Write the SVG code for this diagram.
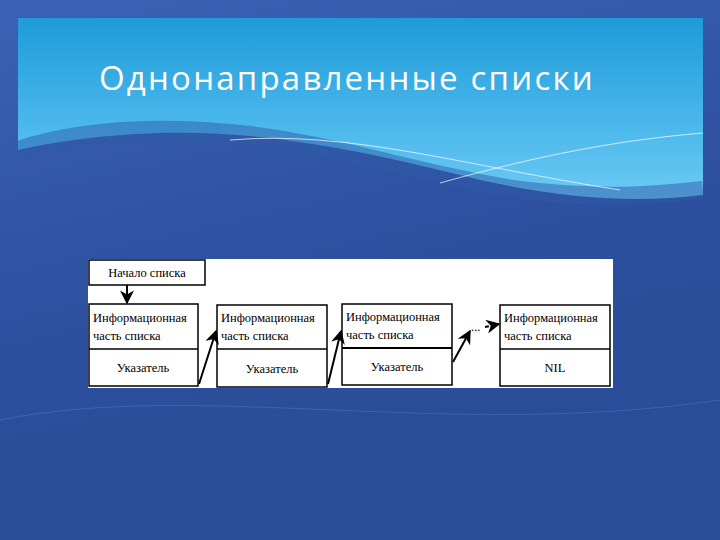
<svg xmlns="http://www.w3.org/2000/svg" width="720" height="540" viewBox="0 0 720 540">
<defs>
<linearGradient id="bg" x1="0" y1="0" x2="0.3" y2="1"><stop offset="0" stop-color="#3a62b4"/><stop offset="0.6" stop-color="#2c4f9e"/><stop offset="1" stop-color="#2a4d98"/></linearGradient>
<linearGradient id="top" x1="0" y1="0" x2="0" y2="1"><stop offset="0" stop-color="#1f9bd8"/><stop offset="0.6" stop-color="#4bb8ec"/><stop offset="1" stop-color="#6ccaf4"/></linearGradient>
<marker id="ah" viewBox="0 0 10 10" refX="9" refY="5" markerWidth="7" markerHeight="7" orient="auto"><path d="M0,0 L10,5 L0,10 L3,5 z" fill="#000"/></marker>
<style>
.box{fill:#fff;stroke:#000;stroke-width:1.5}
.t{font-family:'Liberation Serif',serif;font-size:12.5px;fill:#000}
.c{stroke:#000;stroke-width:2;fill:none;marker-end:url(#ah)}
</style>
</defs>
<rect width="720" height="540" fill="url(#bg)"/>
<path d="M18,18 H703 V195 C620,205 540,195 460,175 C360,150 260,130 160,133 C90,135 40,145 18,150 Z" fill="url(#top)"/>
<path d="M18,150 C80,130 160,125 250,135 C350,148 420,175 520,190 C600,200 660,195 703,190" fill="none" stroke="#2e5aa8" stroke-width="18" opacity="0.5"/>
<path d="M230,140 C350,130 460,165 620,190" fill="none" stroke="#fff" stroke-width="1" opacity="0.7"/>
<path d="M440,183 C540,155 620,140 703,133" fill="none" stroke="#fff" stroke-width="1" opacity="0.7"/>
<path d="M0,420 C200,380 450,440 720,400" fill="none" stroke="#4a70bd" stroke-width="1" opacity="0.6"/>
<text x="99" y="90" font-family="'Open Sans',sans-serif" font-size="33" fill="#fff" letter-spacing="2.2">Однонаправленные списки</text>
<rect x="88" y="259" width="525" height="129" fill="#fff"/>
<g id="start"><rect class="box" x="89" y="260" width="116" height="25"/><text class="t" x="147" y="277" text-anchor="middle">Начало списка</text></g>
<g id="n1"><rect class="box" x="89" y="304" width="109" height="82"/><line x1="89" y1="349" x2="198" y2="349" stroke="#000" stroke-width="1.5"/><text class="t" x="93" y="322">Информационная</text><text class="t" x="93" y="340">часть списка</text><text class="t" x="143" y="372" text-anchor="middle">Указатель</text></g>
<g id="n2"><rect class="box" x="217" y="305" width="110" height="82"/><line x1="217" y1="349" x2="327" y2="349" stroke="#000" stroke-width="1.5"/><text class="t" x="221" y="322">Информационная</text><text class="t" x="221" y="340">часть списка</text><text class="t" x="272" y="373" text-anchor="middle">Указатель</text></g>
<g id="n3"><rect class="box" x="342" y="304" width="110" height="81"/><line x1="342" y1="348" x2="452" y2="348" stroke="#000" stroke-width="2"/><text class="t" x="346" y="321">Информационная</text><text class="t" x="346" y="339">часть списка</text><text class="t" x="397" y="371" text-anchor="middle">Указатель</text></g>
<g id="n4"><rect class="box" x="500" y="305" width="110" height="81"/><line x1="500" y1="349" x2="610" y2="349" stroke="#000" stroke-width="1.5"/><text class="t" x="504" y="322">Информационная</text><text class="t" x="504" y="340">часть списка</text><text class="t" x="555" y="372" text-anchor="middle">NIL</text></g>
<g id="connectors">
<line class="c" x1="127" y1="285" x2="127" y2="303"/>
<line class="c" x1="199" y1="384" x2="216" y2="331"/>
<line class="c" x1="328" y1="384" x2="341" y2="331"/>
<line class="c" x1="453" y1="362" x2="470" y2="331"/>
<text class="t" x="471" y="331">...</text>
<line class="c" x1="485" y1="327" x2="499" y2="324" stroke-dasharray="4,2"/>
</g>
</svg>
